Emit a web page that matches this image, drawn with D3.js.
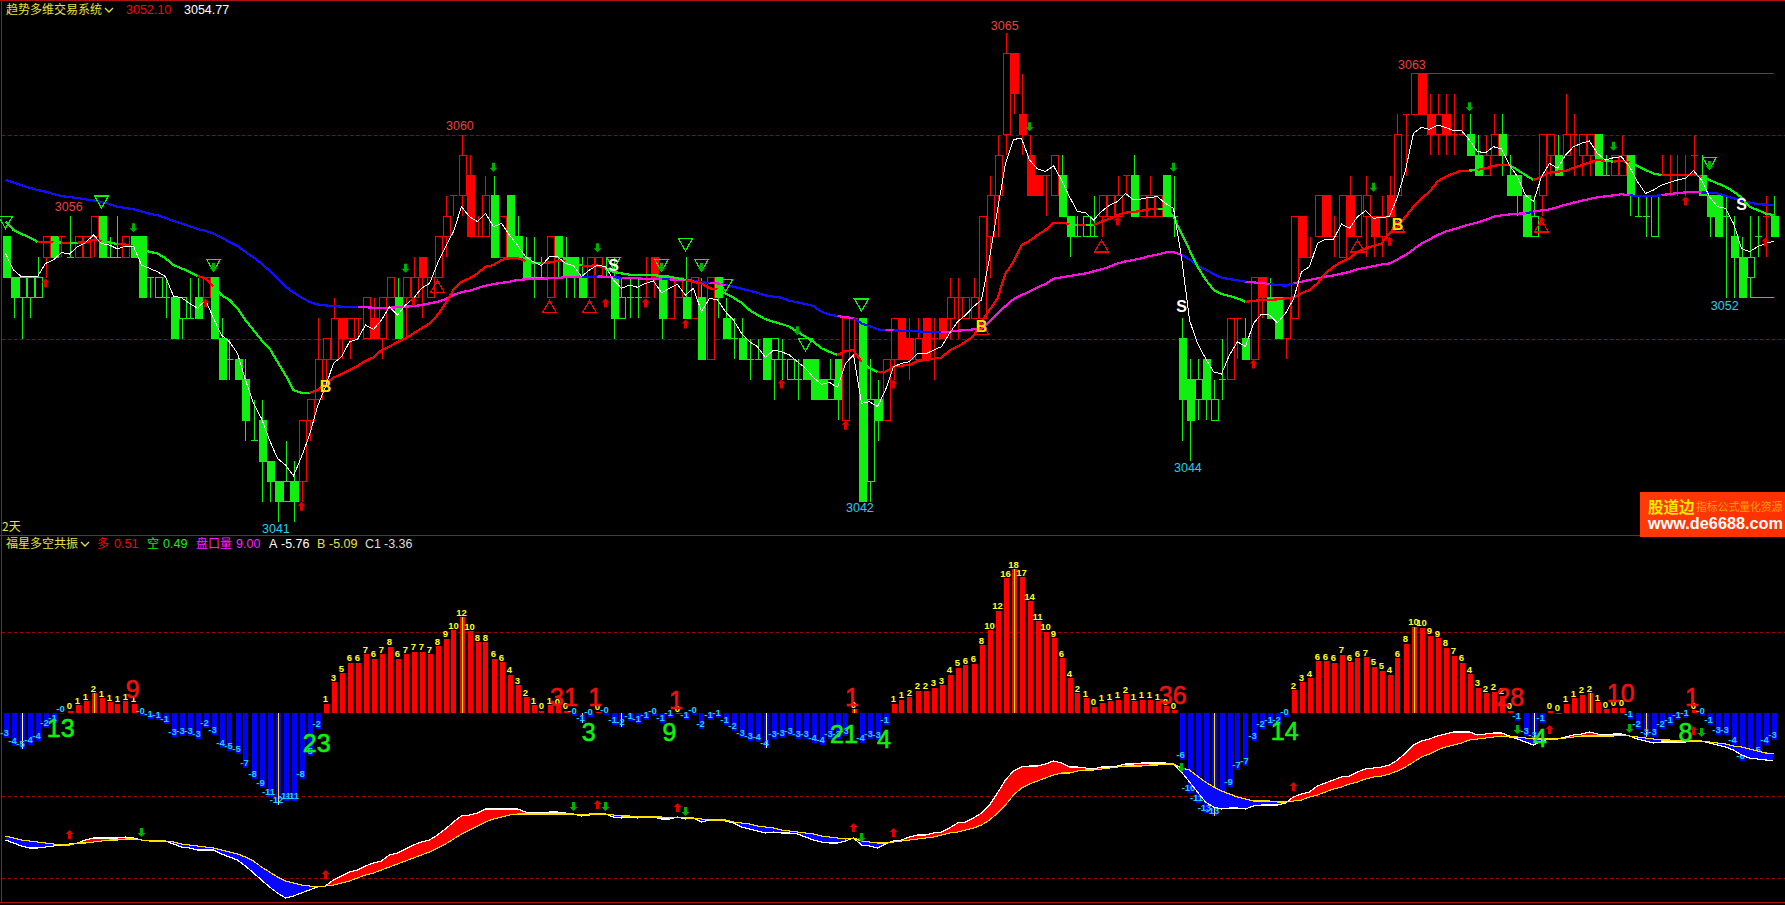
<!DOCTYPE html>
<html><head><meta charset="utf-8">
<script src="https://cdn.jsdelivr.net/npm/d3@7/dist/d3.min.js"></script>
<style>html,body{margin:0;padding:0;background:#000;overflow:hidden}svg{display:block}text{font-family:"Liberation Sans",Arial,sans-serif}</style>
</head><body><svg id="c" width="1785" height="905"></svg>
<script>
// Candles: prices are offsets from 3000. Kind: R hollow red, S solid red, G solid green, H hollow green, r red doji, g green doji
const candleKinds=["GGHHHRGrgR","RRGggRGGgH","gGHgGRGGgG","GgGGGHGRRR","RRSRrRSRRG","RRSRRRrRSr","RGRGGGggRG","GGGRRgGHgg","rSGRRGRGRG","GgGggGHgHg","GGGHGRrGHG","RRSSRSrSRr","RRRRRRSSSS","rRGGgHgRRR","rGRRRGgGGH","GHgRrGRSGG","RRSrRSrRSR","RSRSRrRSSR","SrrGGRRGGG","GHRRGRrRRG","gRRGggHrrr","rrGGGgGGHg","rG"].join("");
const bodyTop=[55,53,53,53,53,55,55,55,54,55, 55,56,56,54,54,55,55,55,53,53, 52,52,52,51,52,53,53,50,49,49, 48,45,46,44,43,43,43,46,47,49, 50,51,51,51,51,52,51,52,53,52, 53,53,54,53,55,56,57,59,58,55, 57,57,56,57,55,54,53,53,55,55, 54,54,53,54,54,53,53,52,52,52, 52,54,53,53,53,52,53,52,53,53, 51,50,50,49,49,50,50,49,49,48, 49,49,48,48,49,51,51,51,47,47, 49,51,51,50,50,51,50,51,52,52, 52,52,56,57,59,64,64,61,59,58, 58,59,58,56,55,56,55,57,57,57, 58,58,57,57,57,58,56,50,48,48, 49,47,48,51,51,50,53,53,52,52, 52,56,56,54,57,57,55,57,57,57, 57,56,56,57,60,61,63,63,61,61, 61,60,60,60,59,59,60,60,58,58, 57,56,60,60,59,60,60,60,60,60, 58,59,59,59,56,56,57,58,58,58, 58,59,58,57,57,56,55,54,54,55, 56,56];
const bodyBot=[53,52,52,52,52,54,54,55,54,54, 54,55,54,54,54,54,54,52,53,52, 52,50,51,51,51,52,50,48,49,48, 46,45,44,43,42,42,42,43,46,47, 49,49,50,50,51,50,50,50,52,50, 52,52,53,52,53,55,57,57,55,55, 55,54,54,54,54,53,53,53,52,54, 53,53,52,52,53,53,51,51,52,52, 52,53,51,51,52,51,51,49,49,52, 50,50,49,49,49,48,49,49,48,48, 48,47,47,47,47,46,51,42,43,46, 46,49,49,49,49,49,50,50,51,52, 51,51,51,55,57,60,62,60,57,57, 58,57,56,55,55,55,55,56,56,56, 58,56,56,56,56,56,56,47,46,47, 47,46,48,48,51,49,49,52,51,50, 50,51,54,54,55,55,55,54,55,55, 56,55,55,56,57,61,61,61,60,60, 60,60,60,59,58,58,59,59,57,57, 55,55,57,59,58,59,60,59,59,58, 58,58,58,57,56,56,55,58,58,58, 58,59,57,56,55,56,54,52,53,55, 56,55];
const wickHigh=[55,53,53,53,54,55,55,55,56,55, 55,56,56,55,56,55,55,55,53,53, 53,52,52,53,53,53,53,51,50,49, 49,47,47,44,43,45,44,46,47,51, 50,52,51,51,51,52,52,52,53,53, 53,54,54,53,55,57,57,60,59,56, 58,58,56,57,56,55,55,54,55,55, 55,54,54,54,54,54,54,53,53,53, 54,54,53,53,53,54,53,53,53,53, 52,51,51,50,50,50,50,50,49,49, 49,49,48,49,49,51,51,51,49,48, 49,51,51,51,51,51,51,51,53,53, 52,53,56,58,60,65,64,63,60,58, 58,59,59,56,56,56,57,57,57,58, 58,59,57,58,57,58,58,51,49,49, 49,48,50,51,51,51,53,53,53,52, 52,56,56,55,57,57,56,57,58,57, 58,56,57,58,61,61,63,63,62,62, 62,62,61,61,60,60,61,61,59,58, 57,57,60,60,60,62,61,60,60,60, 59,59,60,59,57,57,57,59,59,59, 59,60,59,57,57,57,56,55,56,56, 57,57];
const wickLow=[53,51,50,51,52,53,54,54,54,54, 54,54,54,54,54,54,54,52,52,52, 51,50,50,51,51,52,50,48,48,48, 45,45,42,42,41,42,41,42,45,47, 48,49,49,49,50,50,50,49,52,50, 50,52,51,52,53,54,56,56,55,55, 55,54,54,54,54,53,52,53,52,53, 52,52,52,52,53,53,50,51,51,51, 52,52,50,51,52,51,51,49,49,51, 50,49,49,48,49,48,47,48,48,47, 48,47,47,47,46,46,49,42,42,45, 46,48,49,48,49,49,48,50,50,50, 51,51,51,53,55,59,61,59,57,57, 56,57,56,54,55,55,55,55,56,56, 57,56,56,56,56,56,55,45,44,46, 46,46,47,48,49,49,49,51,51,50, 49,51,54,54,55,55,54,54,55,55, 54,54,54,56,57,58,61,61,59,59, 59,59,60,59,58,58,59,58,57,56, 55,55,56,58,58,59,58,58,58,58, 58,58,58,56,56,55,55,58,57,57, 57,58,57,55,55,52,52,52,52,54, 54,55];

const shortLine=[54.18,53.37,53.04,53.04,53.04,53.69,53.86,54.23,54.15,54.51, 54.71,55.08,54.67,54.59,54.40,54.54,54.54,53.61,53.45,53.28, 53.04,52.09,52.01,51.73,51.49,51.90,51.00,50.18,49.85,49.28, 47.97,46.83,46.09,45.03,44.13,43.81,43.28,44.21,45.28,46.67, 47.65,48.79,49.12,49.85,49.97,50.67,50.46,50.91,51.57,51.16, 51.65,51.98,52.47,52.71,53.69,54.51,55.25,56.47,55.98,55.74, 56.14,55.49,55.65,55.08,54.59,54.02,53.77,53.58,54.02,54.02, 53.69,53.58,53.04,53.37,53.61,53.53,52.88,52.47,52.63,52.52, 52.71,52.83,52.25,52.47,52.66,52.14,52.47,51.32,51.98,51.90, 51.32,50.91,50.26,49.85,49.61,49.08,49.44,49.36,49.20,48.87, 48.55,48.10,47.76,47.86,47.61,48.79,49.20,46.83,46.91,46.67, 47.48,48.63,48.79,48.87,49.28,49.25,49.44,49.61,50.26,50.83, 51.16,51.57,51.90,53.94,56.31,58.59,59.77,59.82,58.76,58.32, 58.19,58.48,57.78,56.96,56.23,56.18,55.82,56.23,56.55,56.72, 57.12,56.80,56.85,56.93,56.96,56.63,56.39,54.02,50.91,49.77, 49.04,48.38,48.27,49.20,49.85,49.61,50.75,51.21,51.16,50.78, 51.24,51.94,53.28,53.53,54.67,54.87,54.87,55.62,55.41,55.98, 56.27,55.90,55.95,55.98,56.96,58.27,60.07,60.36,60.26,60.47, 60.36,60.20,60.20,59.74,59.17,59.12,59.41,59.30,58.51,57.94, 57.04,56.72,57.94,58.59,58.35,59.00,59.41,59.58,59.69,59.08, 58.76,58.87,58.92,58.43,57.70,57.12,57.29,57.53,57.65,57.78, 57.86,58.24,57.78,56.96,56.47,56.39,55.65,54.43,54.26,54.51, 54.67,54.77];
const midLine=[55.74,55.33,55.13,54.97,54.75,54.75,54.72,54.71,54.71,54.71, 54.72,54.84,54.80,54.72,54.64,54.62,54.51,54.35,54.26,54.18, 53.94,53.61,53.45,53.28,53.07,52.96,52.58,52.14,51.90,51.49, 50.91,50.42,49.93,49.53,48.87,48.22,47.48,47.35,47.35,47.48, 47.78,48.09,48.27,48.46,48.66,48.92,49.08,49.44,49.61,49.85, 50.02,50.26,50.51,50.75,51.16,51.73,52.39,52.79,52.96,53.20, 53.53,53.61,53.86,53.94,53.94,53.81,53.73,53.69,53.74,53.81, 53.81,53.74,53.58,53.58,53.59,53.45,53.28,53.20,53.14,53.12, 53.12,53.12,53.07,53.04,52.96,52.88,52.79,52.71,52.47,52.42, 52.22,52.01,51.76,51.41,51.16,50.95,50.83,50.72,50.59,50.34, 50.10,49.85,49.53,49.36,49.20,49.40,49.44,48.87,48.55,48.38, 48.38,48.63,48.68,48.71,48.91,48.95,49.02,49.08,49.41,49.61, 49.85,50.13,50.83,51.41,51.98,53.20,53.77,54.59,54.80,55.08, 55.33,55.69,55.69,55.62,55.57,55.57,55.57,55.74,55.87,56.06, 56.18,56.21,56.27,56.34,56.34,56.34,55.98,55.16,54.35,53.53, 52.91,52.39,52.19,52.09,51.98,51.81,51.85,51.90,51.90,51.93, 51.98,52.03,52.22,52.39,52.71,53.20,53.53,53.77,53.94,54.26, 54.43,54.54,54.67,55.16,55.49,55.98,56.47,56.88,57.21,57.70, 57.94,58.10,58.24,58.24,58.27,58.35,58.48,58.51,58.51,58.27, 58.02,57.78,57.94,58.14,58.19,58.22,58.38,58.51,58.63,58.76, 58.71,58.68,58.71,58.64,58.46,58.27,58.10,58.02,58.02,58.02, 58.02,58.06,57.94,57.78,57.61,57.45,57.21,56.93,56.47,56.31, 56.14,56.06];
const longLine=[57.78,57.65,57.52,57.40,57.29,57.21,57.09,56.99,56.94,56.90, 56.83,56.78,56.70,56.60,56.47,56.41,56.34,56.24,56.13,56.05, 55.93,55.77,55.64,55.52,55.38,55.29,55.16,54.97,54.74,54.54, 54.26,53.99,53.69,53.33,52.94,52.55,52.27,52.01,51.81,51.68, 51.63,51.60,51.57,51.55,51.54,51.54,51.52,51.52,51.52,51.54, 51.57,51.60,51.65,51.73,51.81,51.94,52.14,52.29,52.35,52.48, 52.60,52.68,52.74,52.79,52.88,52.91,52.93,52.94,52.96,52.97, 53.02,53.04,53.04,53.04,53.05,53.04,53.01,52.99,52.96,52.96, 52.93,52.91,52.91,52.91,52.88,52.88,52.83,52.77,52.73,52.71, 52.63,52.55,52.45,52.35,52.25,52.12,52.06,52.01,51.86,51.78, 51.70,51.60,51.32,51.19,51.11,51.05,51.01,50.75,50.62,50.46, 50.42,50.41,50.39,50.38,50.36,50.34,50.33,50.31,50.34,50.39, 50.42,50.46,50.49,50.83,51.24,51.60,51.94,52.14,52.30,52.52, 52.68,52.94,53.01,53.07,53.14,53.20,53.30,53.40,53.53,53.69, 53.79,53.86,53.94,54.05,54.13,54.23,54.25,54.10,53.89,53.59, 53.40,53.17,52.99,52.92,52.86,52.79,52.76,52.73,52.68,52.63, 52.60,52.71,52.79,52.88,52.96,53.04,53.10,53.19,53.27,53.40, 53.48,53.56,53.64,53.69,53.89,54.10,54.38,54.67,54.87,55.08, 55.25,55.36,55.49,55.60,55.69,55.82,55.98,56.05,56.09,56.13, 56.14,56.23,56.29,56.34,56.44,56.57,56.67,56.76,56.85,56.93, 56.98,57.03,57.08,57.03,56.99,56.99,56.99,57.04,57.09,57.14, 57.17,57.19,57.17,57.16,57.12,57.01,56.88,56.76,56.68,56.60, 56.57,56.55];
// index ranges where the trend lines are in their "up" colour
const midUpRanges=[[4,5],[7,7],[9,11],[14,15],[24,25],[38,64],[67,69],[72,74],[85,88],[104,106],[109,132],[134,134],[136,140],[141,143],[155,182],[184,187],[191,193],[194,199],[201,202],[207,211]];
const longUpRanges=[[44,71],[74,75],[77,81],[83,85],[88,89],[104,105],[110,110],[117,146],[155,157],[161,189],[191,202],[207,211]];

const triDown=[[0,55.7],[12,56.7],[26,53.6],[76,53.7],[82,53.6],[85,54.6],[87,53.6],[90,52.6],[107,51.65],[100,49.7],[213,58.6]];
const triUp=[[54,52.55],[68,51.57],[73,51.57],[122,50.5],[137,54.54],[169,54.54],[174,55.52],[192,55.52]];
const arrowDownTop=[[16,55.46],[50,53.48],[61,58.43],[74,54.48],[26,53.53],[128,60.42],[146,58.43],[82,53.53],[87,53.53],[99,50.42],[171,57.45],[183,61.4],[201,59.46],[213,58.51]];
const arrowUpTop=[[5,52.71],[25,51.73],[37,41.76],[75,51.73],[80,51.73],[85,50.7],[97,47.76],[105,45.73],[111,47.76],[139,55.74],[51,51.81],[173,54.75],[192,55.74],[210,56.72],[220,54.72],[156,48.74]];
const buyMarks=[[40,47.68],[122,50.62],[174,55.62]];
const sellMarks=[[76,53.58],[147,51.57],[217,56.6]];
const highLabels=[["3056",7.9,3056.46],["3060",56.8,3060.43],["3065",124.9,3065.34],["3063",175.8,3063.42]];
const lowLabels=[["3041",33.8,3040.72],["3042",106.8,3041.75],["3044",147.8,3043.7],["3052",214.9,3051.65]];

// Oscillator histogram
const histBars=[-3.04,-4.04,-4.5,-4,-3.5,-1.8,-1.25,-0.1,0.3,1, 1.5,2.5,1.9,1.4,1.17,1.5,1.17,-0.3,-0.7,-0.8, -1.3,-3,-2.8,-2.8,-3.2,-1.8,-2.7,-4.3,-4.7,-5.1, -6.8,-8.2,-9.3,-10.5,-11.5,-11,-11,-8.2,-5.3,-2, 1.17,3.9,5,6.3,6.3,7.4,6.8,7.4,8.3,6.8, 7.4,7.7,7.7,7.4,8.4,9.3,10.4,12,10.25,8.9, 8.9,6.8,6.4,4.8,3.5,2,1,0.3,1,0.9, 0.3,-0.3,-1.2,-0.4,0.2,-0.25,-1.45,-1.7,-1,-1.3, -0.8,-0.3,-1.2,-0.6,0.03,-0.8,-0.25,-2,-0.8,-0.6, -1.45,-2.2,-3.1,-3.4,-3.6,-4.3,-3.2,-3.1,-2.8,-3.2, -3.2,-3.7,-4,-3.2,-3.2,-2.8,0.5,-3.7,-3.2,-3.3, -1.45,1.17,1.7,2,2.8,2.8,3.2,3.5,4.8,5.7, 6,6.2,8.5,10.4,12.8,16.9,18,17,14,11.5, 10.2,9.4,6.9,4.4,2.5,1.9,0.8,1.3,1.5,1.7, 2.4,1.5,1.7,1.7,1.5,0.9,0.4,-5.8,-10,-11.25, -12.5,-12.8,-11.5,-9.2,-7.1,-6.6,-3.4,-2,-1.45,-1.5, -0.4,2.9,3.9,4.4,6.5,6.5,6.3,7.3,6.4,6.9, 7,5.8,5.3,4.8,6.9,8.7,10.8,10.7,9.7,9.4, 8.2,7.2,6.3,4.9,3.2,2.5,2.7,2.2,0.3,-1, -2.8,-3.3,-1.2,0.3,0.05,1.2,1.9,2.3,2.5,1.4, 0.5,0.7,0.7,-0.7,-2,-2.9,-3,-2,-1.45,-0.8, -0.6,0.4,-0.3,-1.45,-2.7,-2.7,-4,-6,-5.8,-5.2, -4,-3.3];
const histPeaks=[2,11,34,57,72,77,95,106,126,151,176,191,198,205];
const bigRed=[["9",15.9,3],["31",69.8,2.1],["1",73.7,2],["1",83.8,1.7],["1",105.8,2.1],["36",145.9,2.3],["28",188.1,2.1],["10",201.9,2.5],["1",210.8,2.1]];
const bigGreen=[["13",6.9,-1.8],["23",38.9,-3.7],["3",72.9,-2.3],["9",83,-2.3],["21",104.8,-2.6],["4",109.8,-3.2],["14",159.9,-2.2],["4",191.8,-3.1],["8",210,-2.3]];
const oscA=[-13.7,-14.0,-14.3,-14.5,-14.5,-14.4,-14.3,-14.2,-14.1,-14.0, -13.7,-13.5,-13.5,-13.5,-13.5,-13.4,-13.5,-13.7,-13.8,-13.8, -13.8,-14.1,-14.4,-14.5,-14.7,-14.7,-14.7,-15.1,-15.4,-15.7, -16.3,-17.0,-17.7,-18.4,-19.0,-19.5,-19.3,-19.0,-18.7,-18.4, -18.3,-17.7,-17.3,-16.9,-16.7,-16.3,-16.0,-15.8,-15.2,-15.0, -14.6,-14.2,-13.9,-13.7,-13.2,-12.6,-11.9,-11.3,-11.2,-11.0, -10.6,-10.6,-10.6,-10.6,-10.6,-10.9,-11.0,-11.0,-10.9,-10.9, -11.0,-11.1,-11.3,-11.2,-11.1,-11.1,-11.4,-11.5,-11.4,-11.5, -11.4,-11.4,-11.6,-11.6,-11.4,-11.6,-11.5,-11.9,-11.7,-11.7, -11.8,-12.0,-12.4,-12.6,-12.8,-13.0,-12.9,-13.0,-13.0,-13.1, -13.4,-13.7,-13.9,-14.0,-14.0,-13.8,-13.5,-14.2,-14.3,-14.5, -14.1,-13.8,-13.7,-13.4,-13.2,-13.2,-13.0,-12.9,-12.5,-12.0, -11.9,-11.5,-11.0,-10.2,-9.0,-7.7,-6.8,-6.4,-6.3,-6.3, -6.1,-5.8,-6.0,-6.4,-6.4,-6.5,-6.6,-6.4,-6.4,-6.3, -6.1,-6.1,-6.0,-6.0,-6.0,-6.0,-6.1,-6.9,-7.9,-8.9, -9.9,-10.4,-10.6,-10.5,-10.5,-10.6,-10.3,-10.2,-10.2,-10.2, -10.0,-9.4,-9.1,-8.9,-8.3,-8.0,-7.7,-7.4,-7.3,-6.9, -6.6,-6.5,-6.4,-6.2,-5.7,-5.0,-4.2,-3.8,-3.6,-3.3, -3.1,-2.9,-2.9,-2.9,-3.2,-3.1,-3.0,-3.0,-3.3,-3.6, -3.9,-4.2,-3.8,-3.6,-3.6,-3.4,-3.2,-3.1,-2.9,-3.1, -3.2,-3.1,-3.1,-3.3,-3.6,-3.8,-4.0,-3.9,-3.9,-3.9, -3.9,-3.8,-3.8,-4.0,-4.2,-4.4,-4.7,-5.2,-5.5,-5.6, -5.7,-5.76];
const oscB=[-13.3,-13.5,-13.7,-13.8,-13.9,-14.0,-14.1,-14.2,-14.2,-14.0, -14.0,-13.9,-13.8,-13.7,-13.7,-13.6,-13.6,-13.7,-13.8,-13.8, -13.8,-13.9,-14.1,-14.2,-14.3,-14.4,-14.5,-14.7,-14.9,-15.1, -15.4,-15.8,-16.4,-16.9,-17.4,-17.8,-18.0,-18.2,-18.3,-18.4, -18.3,-18.2,-18.0,-17.8,-17.5,-17.2,-17.0,-16.7,-16.4,-16.1, -15.8,-15.5,-15.2,-14.9,-14.5,-14.1,-13.6,-13.1,-12.7,-12.3, -11.9,-11.6,-11.4,-11.2,-11.1,-11.1,-11.1,-11.1,-11.1,-11.1, -11.1,-11.1,-11.2,-11.1,-11.1,-11.1,-11.2,-11.3,-11.3,-11.4, -11.4,-11.4,-11.4,-11.5,-11.4,-11.5,-11.5,-11.6,-11.7,-11.7, -11.7,-11.9,-12.0,-12.1,-12.3,-12.4,-12.5,-12.7,-12.8,-12.9, -13.0,-13.1,-13.3,-13.4,-13.5,-13.6,-13.5,-13.8,-13.9,-14.0, -14.0,-13.9,-13.8,-13.7,-13.6,-13.5,-13.4,-13.2,-13.0,-12.9, -12.7,-12.5,-12.2,-11.7,-11.0,-10.2,-9.2,-8.5,-8.1,-7.8, -7.5,-7.2,-7.0,-7.0,-6.8,-6.7,-6.7,-6.6,-6.5,-6.4, -6.3,-6.3,-6.3,-6.2,-6.2,-6.1,-6.1,-6.5,-6.7,-7.3, -7.9,-8.4,-8.8,-9.1,-9.4,-9.6,-9.8,-9.8,-9.8,-9.9, -9.9,-9.8,-9.7,-9.4,-9.2,-8.9,-8.6,-8.4,-8.1,-7.9, -7.6,-7.4,-7.3,-7.1,-6.8,-6.4,-5.9,-5.4,-5.1,-4.7, -4.4,-4.2,-4.0,-3.7,-3.6,-3.5,-3.4,-3.3,-3.4,-3.4, -3.5,-3.6,-3.6,-3.6,-3.6,-3.5,-3.4,-3.3,-3.3,-3.3, -3.3,-3.3,-3.2,-3.3,-3.4,-3.5,-3.6,-3.7,-3.7,-3.8, -3.8,-3.8,-3.8,-3.9,-4.0,-4.1,-4.3,-4.4,-4.6,-4.8, -5.0,-5.09];
const oscArrowUp=[[8,-13.2],[40,-17.2],[74,-10.2],[84,-10.5],[106,-12.5],[111,-13.0],[161,-8.4],[193,-2.7],[211,-2.8]];
const oscArrowDown=[[17,-12.9],[71,-10.3],[75,-10.3],[85,-10.8],[107,-13.4],[147,-6.4],[189,-2.6],[203,-2.5],[212,-2.9]];

const PRICE_BASE=3000;
const svg=d3.select("#c");
const W=1785,H=905;
const RED="#ff0000",GREEN="#10f010",FRAME="#b01010",GRID="#a00000";
const x=d3.scaleLinear().domain([0,221]).range([5.5,1773.5]);
const yP=d3.scaleLinear().domain([3060,3050]).range([134.7,338.7]);
const yH=d3.scaleLinear().domain([0,10]).range([713.3,633.3]);
const yO=d3.scaleLinear().domain([-5,-15]).range([753,853]);
const P=q=>yP(PRICE_BASE+q);
svg.append("rect").attr("width",W).attr("height",H).attr("fill","#000");
const crisp=g=>g.attr("shape-rendering","crispEdges");

// frame and grid
const frame=svg.append("g").call(crisp);
[[0,0.5,W,0.5],[1.5,0,1.5,902],[0,535.5,W,535.5],[0,902.5,W,902.5]].forEach(l=>frame.append("line").attr("x1",l[0]).attr("y1",l[1]).attr("x2",l[2]).attr("y2",l[3]).attr("stroke",FRAME));
[yP(3060),yP(3050),yH(10.2),yO(-9.3),yO(-17.5)].forEach(v=>frame.append("line").attr("x1",2).attr("x2",W).attr("y1",Math.round(v)+.5).attr("y2",Math.round(v)+.5).attr("stroke",GRID).attr("stroke-dasharray","3,3"));

// candles
const cg=svg.append("g").call(crisp);
const cdata=d3.range(222).map(i=>({i,k:candleKinds[i],t:bodyTop[i],b:bodyBot[i],h:wickHigh[i],l:wickLow[i]}));
const colOf=k=>"RSr".includes(k)?RED:GREEN;
cg.selectAll(".wick").data(cdata).join("line").attr("x1",d=>Math.round(x(d.i))+.5).attr("x2",d=>Math.round(x(d.i))+.5).attr("y1",d=>P(d.h)).attr("y2",d=>P(d.l)).attr("stroke",d=>colOf(d.k));
cg.selectAll(".body").data(cdata.filter(d=>d.t!==d.b)).join("rect").attr("x",d=>Math.round(x(d.i))-3).attr("width",7).attr("y",d=>P(d.t)).attr("height",d=>P(d.b)-P(d.t))
 .attr("fill",d=>"SG".includes(d.k)?colOf(d.k):"#000").attr("stroke",d=>colOf(d.k));
cg.selectAll(".doji").data(cdata.filter(d=>d.t===d.b)).join("line").attr("x1",d=>Math.round(x(d.i))-3).attr("x2",d=>Math.round(x(d.i))+4).attr("y1",d=>P(d.t)).attr("y2",d=>P(d.t)).attr("stroke",d=>colOf(d.k));
// reference lines at 3063 and 3052
cg.append("line").attr("x1",x(176)).attr("x2",1773).attr("y1",yP(3063)).attr("y2",yP(3063)).attr("stroke",RED);
cg.append("line").attr("x1",x(218)).attr("x2",x(221)).attr("y1",yP(3052)).attr("y2",yP(3052)).attr("stroke",GREEN);

// two-colour lines
function segLine(vals,ranges,upCol,downCol,sw){
  const isUp=i=>ranges.some(r=>i>=r[0]&&i<=r[1]);
  const g=svg.append("g").call(crisp);
  const line=d3.line().x(d=>x(d)).y(d=>P(vals[d]));
  let s=0;
  for(let i=1;i<=vals.length;i++){
    if(i===vals.length||isUp(i)!==isUp(s)){
      g.append("path").attr("d",line(d3.range(s,Math.min(i+1,vals.length)))).attr("fill","none").attr("stroke",isUp(s)?upCol:downCol).attr("stroke-width",sw);
      s=i;
    }
  }
}
segLine(longLine,longUpRanges,"#ff10e0","#1010ff",2.2);
segLine(midLine,midUpRanges,"#ff0000","#10f010",2.2);
svg.append("path").call(crisp).attr("d",d3.line().x((d,i)=>x(i)).y(d=>P(d))(shortLine)).attr("fill","none").attr("stroke","#fff").attr("stroke-width",1);

// markers
function tri(data,col,up){svg.append("g").call(crisp).selectAll("path").data(data).join("path").attr("transform",d=>`translate(${x(d[0])},${P(d[1])})`)
  .attr("d",up?"M0,-6L7,6L-7,6Z":"M-7,-6L7,-6L0,6Z").attr("fill","none").attr("stroke",col).attr("stroke-width",1.2);}
const ARROW_UP="M0,-5L4,-1L1.5,-1L1.5,4L-1.5,4L-1.5,-1L-4,-1Z",ARROW_DN="M0,5L4,1L1.5,1L1.5,-4L-1.5,-4L-1.5,1L-4,1Z";
function arrows(data,col,yf,d0){svg.append("g").selectAll("path").data(data).join("path").attr("transform",d=>`translate(${x(d[0])},${yf(d[1])})`).attr("d",d0).attr("fill",col);}
tri(triDown,GREEN,false);tri(triUp,RED,true);
arrows(arrowDownTop,"#00b000",P,ARROW_DN);arrows(arrowUpTop,"#e00000",P,ARROW_UP);
function letters(data,t,col){svg.append("g").selectAll("text").data(data).join("text").attr("x",d=>x(d[0])).attr("y",d=>P(d[1])).attr("dy",".36em").attr("text-anchor","middle").attr("font-size",16).attr("font-weight","bold").attr("fill",col).text(t);}
letters(buyMarks,"B","#ffe000");letters(sellMarks,"S","#fff");
function priceLabels(data,col){svg.append("g").selectAll("text").data(data).join("text").attr("x",d=>x(d[1])).attr("y",d=>yP(d[2])).attr("dy",".36em").attr("text-anchor","middle").attr("font-size",12.5).attr("fill",col).text(d=>d[0]);}
priceLabels(highLabels,"#e84040");priceLabels(lowLabels,"#20d0f0");

// header of price panel
function txt(s,xp,yp,col,size=12.5,fam){const t=svg.append("text").attr("x",xp).attr("y",yp).attr("dy",".36em").attr("fill",col).attr("font-size",size).text(s);if(fam)t.style("font-family",fam);return t;}
const CJK='"Noto Sans CJK SC","Liberation Sans",sans-serif';
txt("趋势多维交易系统",6,9.5,"#e8e040",12,CJK);
const chev=(cx,cy)=>svg.append("path").attr("d",`M${cx-4},${cy-2}L${cx},${cy+2}L${cx+4},${cy-2}`).attr("fill","none").attr("stroke","#e8e040").attr("stroke-width",1.3);
chev(109,10);
txt("3052.10",126,9.5,RED);txt("3054.77",184,9.5,"#fff");
txt("2天",2,527,"#e8e040",12,CJK);

// histogram
const hg=svg.append("g").call(crisp);
const hd=histBars.map((v,i)=>({v,i}));
hg.selectAll("rect").data(hd).join("rect").attr("x",d=>Math.round(x(d.i))-2).attr("width",5).attr("y",d=>Math.min(yH(0),yH(d.v))).attr("height",d=>Math.max(1,Math.abs(yH(d.v)-yH(0)))).attr("fill",d=>d.v>=0?"#ff0000":"#0000ff");
hg.selectAll("line").data(histPeaks).join("line").attr("x1",i=>Math.round(x(i))+.5).attr("x2",i=>Math.round(x(i))+.5).attr("y1",yH(0)).attr("y2",i=>yH(histBars[i])).attr("stroke",i=>(i===2||i===77||i===95||i===191)?"#fff":"#ffe000");
const labFont='"Liberation Sans Narrow","Liberation Sans",sans-serif';
svg.append("g").selectAll("text").data(hd).join("text").attr("x",d=>x(d.i)+(d.v<0?-1:0)).attr("y",d=>d.v>=0?yH(d.v)-1.5:yH(d.v)-2).attr("text-anchor","middle").attr("font-size",9.5).attr("font-weight","bold").style("font-family",labFont)
 .attr("fill",d=>d.v>=0?"#ffff20":"#20d0ff").text(d=>d.v>=0?String(Math.trunc(d.v)):"-"+Math.round(-d.v));

// oscillator band
const areaRed=d3.area().x((d,i)=>x(i)).y0((d,i)=>yO(oscA[i])).y1((d,i)=>yO(Math.min(oscA[i],oscB[i])));
const areaBlue=d3.area().x((d,i)=>x(i)).y0((d,i)=>yO(oscB[i])).y1((d,i)=>yO(Math.min(oscA[i],oscB[i])));
svg.append("path").attr("d",areaBlue(oscA)).attr("fill","#0808ff");
svg.append("path").attr("d",areaRed(oscA)).attr("fill","#ff0000");
const lineOf=a=>d3.line().x((d,i)=>x(i)).y(d=>yO(d))(a);
svg.append("path").call(crisp).attr("d",lineOf(oscA)).attr("fill","none").attr("stroke","#fff").attr("stroke-width",1.2);
svg.append("path").call(crisp).attr("d",lineOf(oscB)).attr("fill","none").attr("stroke","#ffe000").attr("stroke-width",1.2);
arrows(oscArrowUp,"#e00000",yO,ARROW_UP);arrows(oscArrowDown,"#00b000",yO,ARROW_DN);

// big counters
function big(data,col){svg.append("g").selectAll("text").data(data).join("text").attr("x",d=>x(d[1])).attr("y",d=>yH(d[2])).attr("dy",".36em").attr("text-anchor","middle").attr("font-size",25).attr("stroke",col).attr("stroke-width",.6).attr("fill",col).text(d=>d[0]);}
big(bigRed,"#f01010");big(bigGreen,"#10f010");

// header of oscillator panel
txt("福星多空共振",6,543.5,"#e8e040",12,CJK);chev(85,544);
txt("多",97,543.5,RED,12,CJK);txt("0.51",114,543.5,RED);
txt("空",147,543.5,GREEN,12,CJK);txt("0.49",163,543.5,GREEN);
txt("盘口量",196,543.5,"#ff20ff",12,CJK);txt("9.00",236,543.5,"#ff20ff");
txt("A",269,543.5,"#fff");txt("-5.76",281,543.5,"#fff");
txt("B",317,543.5,"#e8e040");txt("-5.09",329,543.5,"#e8e040");
txt("C1",365,543.5,"#ddd");txt("-3.36",384,543.5,"#ddd");

// watermark
const defs=svg.append("defs");
const gr=defs.append("linearGradient").attr("id","wm").attr("x1",0).attr("x2",1);
gr.append("stop").attr("offset","0").attr("stop-color","#ff3a08");gr.append("stop").attr("offset","1").attr("stop-color","#ff3000");
svg.append("rect").attr("x",1640).attr("y",492).attr("width",145).attr("height",45).attr("fill","url(#wm)");
txt("股道边",1648,507,"#ffe800",15.5,CJK).attr("font-weight","bold");
txt("指标公式量化资源",1696,507,"#ffa000",10.8,CJK);
txt("www.de6688.com",1648,523,"#fff",16.5).attr("font-weight","bold").attr("textLength",135).attr("lengthAdjust","spacingAndGlyphs");
</script></body></html>
